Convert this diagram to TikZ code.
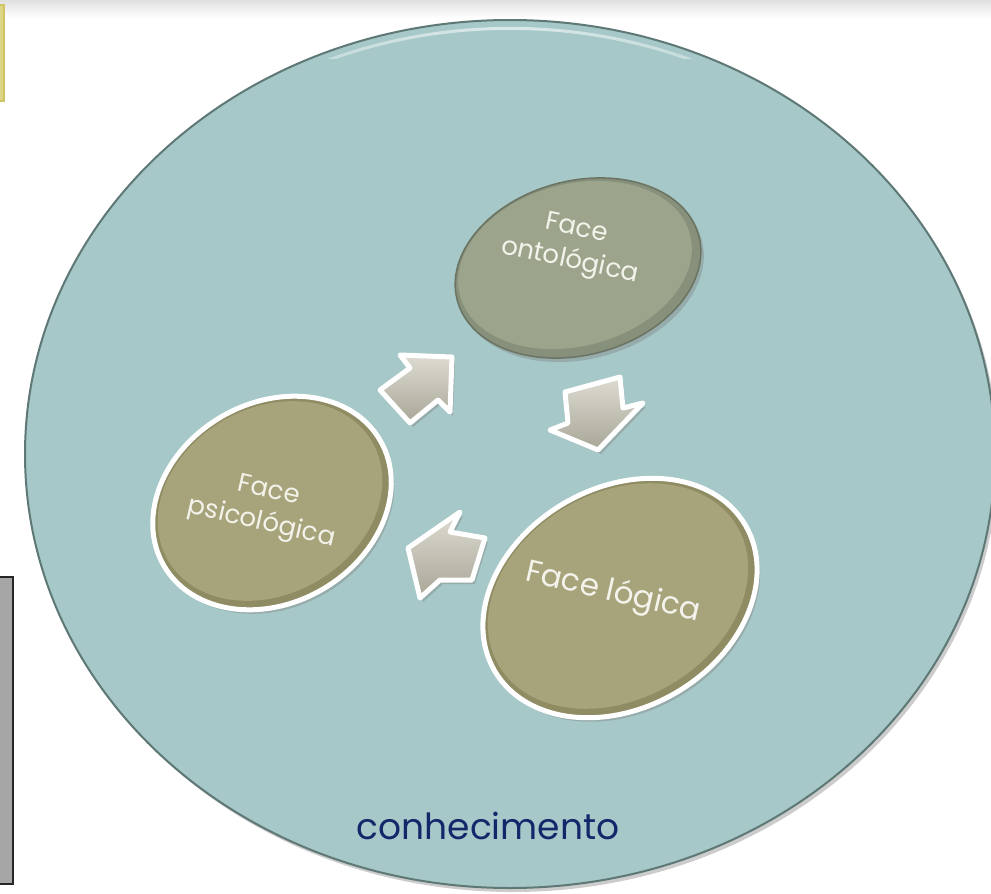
\documentclass[tikz,border=0pt]{standalone}
\usepackage{fontspec}
\setmainfont{Poppins}
\usetikzlibrary{shapes.geometric,shadows,fadings}
\definecolor{bigfill}{HTML}{A6C8C8}
\definecolor{bigedge}{HTML}{5E7876}
\definecolor{ontofill}{HTML}{9CA58C}
\definecolor{ontoedge}{HTML}{86907A}
\definecolor{olivefill}{HTML}{A7A37A}
\definecolor{oliveedge}{HTML}{8F8B62}
\definecolor{facetxt}{HTML}{F3F3EC}
\definecolor{navy}{HTML}{13286B}
\definecolor{arrowlight}{HTML}{DEDCD2}
\definecolor{arrowdark}{HTML}{A8A696}
\definecolor{yellowfill}{HTML}{DDD686}
\definecolor{yellowedge}{HTML}{CFC565}
\definecolor{boxgray}{HTML}{A6A6A6}
\tikzfading[name=midfade, left color=transparent!100, right color=transparent!100, middle color=transparent!0]
\begin{document}
\begin{tikzpicture}[x=1pt,y=-1pt,
  shadowed/.style={drop shadow={shadow xshift=3pt,shadow yshift=-4pt,opacity=.4}},
  face/.style={ellipse, inner sep=0pt, draw=white, line width=5pt, fill=oliveedge, shadowed},
  faceinner/.style={ellipse, inner sep=0pt, fill=olivefill},
  facetext/.style={text=facetxt, align=center, inner sep=0pt, font=\fontsize{26}{33}\selectfont},
  blockarrow/.style={draw=white, line width=5pt, line join=round, top color=arrowlight, bottom color=arrowdark, shadowed}
]
\useasboundingbox (0,0) rectangle (991,894);
\fill[white] (0,0) rectangle (991,894);
\shade[top color=black!12, bottom color=white] (0,0) rectangle (991,18);
% side boxes
\draw[yellowedge, fill=yellowfill, line width=1.5pt] (-4,5) rectangle (4,101);
\draw[black!85, fill=boxgray, line width=2.5pt] (-4,577) rectangle (13,884);
% big circle
\node[ellipse, inner sep=0pt, minimum width=970pt, minimum height=868pt, fill=bigfill, draw=bigedge, line width=2pt, shadowed] (know) at (510,454) {};
\begin{scope}
\clip (0,0) rectangle (991,58);
\draw[white, opacity=.6, line width=3pt, path fading=midfade] (510,456) ellipse [x radius=480pt, y radius=429pt];
\end{scope}
% arrows
\path[blockarrow] (452,357) -- (400,355) -- (410,368) -- (380,390) -- (410,423) -- (438,400) -- (450,412) -- cycle;
\path[blockarrow] (565,392) -- (620,377) -- (623,408) -- (643,403) -- (598,450) -- (550,430) -- (568,423) -- cycle;
\path[blockarrow] (460,512) -- (408,548) -- (420,598) -- (440,580) -- (472,580) -- (485,538) -- (450,532) -- cycle;
% faces
\node[ellipse, inner sep=0pt, minimum width=250pt, minimum height=174pt, rotate=15, fill=ontoedge, draw=ontoedge!80!black, line width=1.5pt, shadowed] (onto) at (578,268) {};
\node[ellipse, inner sep=0pt, minimum width=238pt, minimum height=162pt, rotate=15, fill=ontofill] (ontoin) at (575,265) {};
\node[face, minimum width=250pt, minimum height=200pt, rotate=30] (psi) at (272,503) {};
\node[faceinner, minimum width=236pt, minimum height=186pt, rotate=30] (psiin) at (270,501) {};
\node[face, minimum width=290pt, minimum height=220pt, rotate=30] (log) at (620,598) {};
\node[faceinner, minimum width=276pt, minimum height=206pt, rotate=30] (login) at (618,596) {};
% texts
\node[facetext, rotate=-12] (ontot) at (573,246) {Face\\ontológica};
\node[facetext, rotate=-13] (psit) at (265,508) {Face\\psicológica};
\node[facetext, rotate=-13, font=\fontsize{31}{36}\selectfont] (logt) at (613,593) {Face lógica};
\node[text=navy, inner sep=0pt, font=\fontsize{36}{40}\selectfont] (knowt) at (488,826) {conhecimento};
\end{tikzpicture}
\end{document}
